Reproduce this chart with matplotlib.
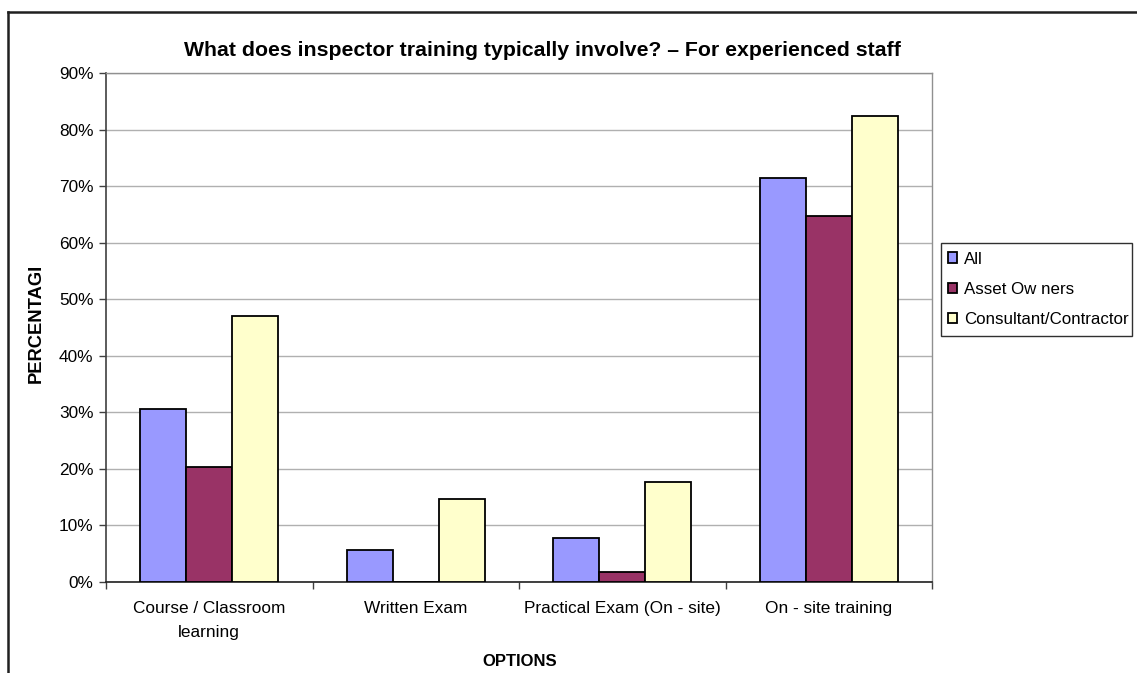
import numpy as np
import matplotlib
matplotlib.use("Agg")
import matplotlib.pyplot as plt
from matplotlib.lines import Line2D
from matplotlib.patches import Rectangle
from matplotlib.ticker import PercentFormatter
from matplotlib.transforms import Bbox, TransformedBbox

categories = ["Course / Classroom\nlearning", "Written Exam", "Practical Exam (On - site)", "On - site training"]
series = ["All", "Asset Ow ners", "Consultant/Contractor"]
all_vals = [30.6, 5.6, 7.8, 71.5]
owners_vals = [20.3, 0.0, 1.8, 64.7]
consult_vals = [47.1, 14.6, 17.6, 82.4]
colors = ["#9999FF", "#993366", "#FFFFCC"]

plt.rcParams["font.family"] = ["Liberation Sans", "DejaVu Sans"]
W, H = 1137, 673
fig = plt.figure(figsize=(W / 100, H / 100), dpi=100)
ax = fig.add_axes([106 / W, 1 - 582 / H, (932 - 106) / W, (582 - 73) / H])

x = np.arange(len(categories))
bw = 1 / 4.5
for i, (vals, lab) in enumerate(zip([all_vals, owners_vals, consult_vals], series)):
    ax.bar(x + (i - 1) * bw, vals, bw, color=colors[i], edgecolor="black", linewidth=1.3,
           label=lab, zorder=3)

ax.set_xlim(-0.5, len(categories) - 0.5)
ax.set_ylim(0, 90)
ax.set_yticks(np.arange(0, 91, 10))
ax.yaxis.set_major_formatter(PercentFormatter(decimals=0))
ax.set_xticks(x)
ax.set_xticklabels(categories, fontsize=12.4, linespacing=1.75)
ax.set_xticks(np.arange(-0.5, len(categories)), minor=True)
ax.tick_params(axis="x", which="major", length=0, pad=14)
ax.tick_params(axis="x", which="minor", length=5, width=1, color="#404040")
ax.tick_params(axis="y", length=5, width=1, color="#404040", labelsize=12.4, pad=4)
ax.grid(axis="y", color="#b0b0b0", linewidth=1, zorder=0)
for s in ["top", "right"]:
    ax.spines[s].set_color("#909090")
    ax.spines[s].set_linewidth(1)
ax.spines["left"].set_color("#404040")
ax.spines["bottom"].set_color("#202020")
ax.spines["left"].set_linewidth(1.2)
ax.spines["bottom"].set_linewidth(1.2)

fig.text(542.5 / W, 1 - 50 / H, "What does inspector training typically involve? \u2013 For experienced staff",
         ha="center", va="center", fontsize=15.3, fontweight="bold")
fig.text(520 / W, 1 - 662 / H, "OPTIONS", ha="center", va="center", fontsize=12, fontweight="bold")
ylab = fig.text(36 / W, 1 - 320 / H, "PERCENTAGE", ha="center", va="center", rotation=90,
                fontsize=13.2, fontweight="bold")
ylab.set_clip_box(TransformedBbox(Bbox([[0, 0], [1, 1 - 268 / H]]), fig.transFigure))
ylab.set_clip_on(True)

# legend: entries placed without padding, box drawn separately (text nearly touches its right edge)
fig.legend(loc="upper left", bbox_to_anchor=(948 / W, 1 - 251.5 / H), borderaxespad=0,
           fontsize=12.2, frameon=False, handlelength=0.56, handleheight=0.56,
           handletextpad=0.38, labelspacing=0.9, borderpad=0)
fig.add_artist(Rectangle((941 / W, 1 - 336 / H), (1132 - 941) / W, (336 - 243) / H,
                         transform=fig.transFigure, fill=False, edgecolor="#303030", lw=1))

# chart-area border (cut by the image on the right and bottom)
fig.add_artist(Line2D([8 / W, 8 / W], [0, 1 - 12 / H], color="#202020", lw=1.8))
fig.add_artist(Line2D([8 / W, 1], [1 - 12 / H, 1 - 12 / H], color="#202020", lw=1.8))

fig.savefig("out.png", dpi=100)
